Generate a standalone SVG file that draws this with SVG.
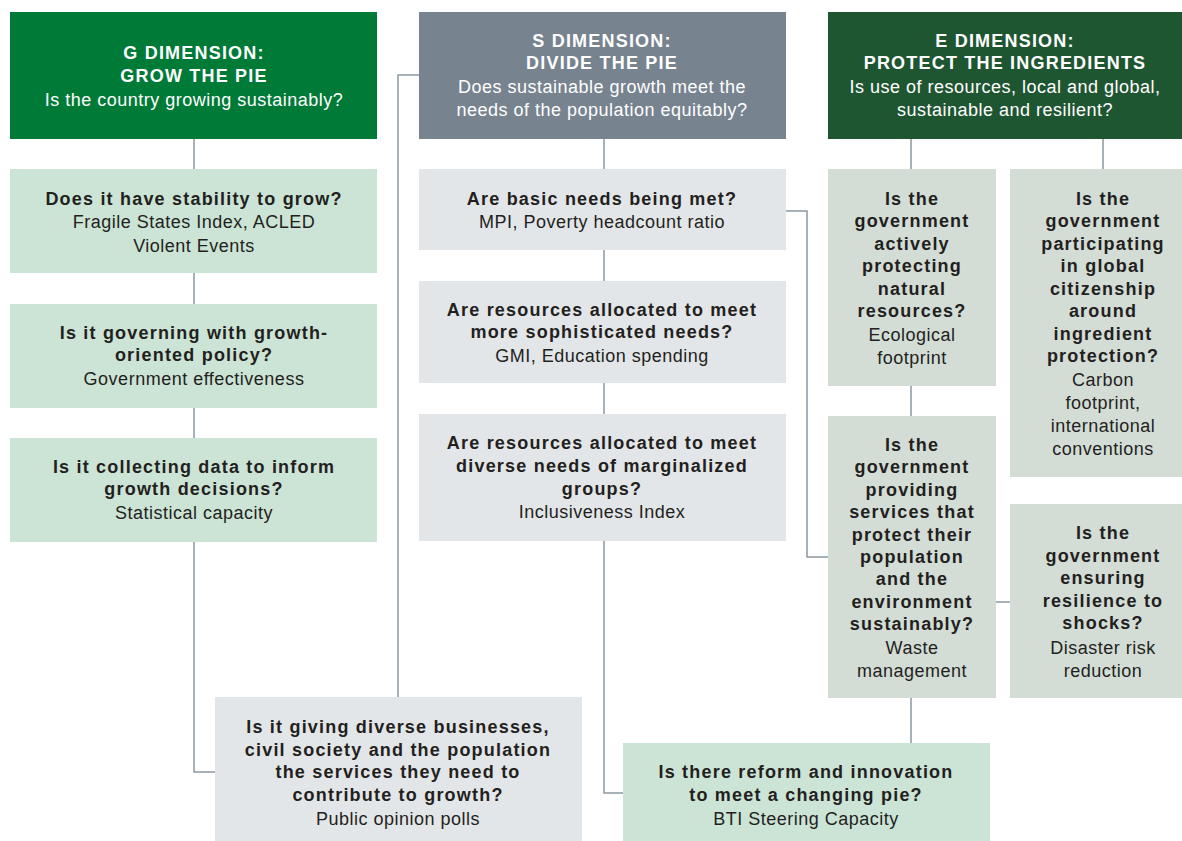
<svg xmlns="http://www.w3.org/2000/svg" width="1182" height="841" viewBox="0 0 1182 841">
<style>
.hg{fill:#007a37}.hs{fill:#77838f}.he{fill:#1f5632}
.lg{fill:#cce4d6}.gy{fill:#e3e6e8}.eg{fill:#d3ddd6}
text{font-family:"Liberation Sans",Arial,sans-serif;font-size:18px;letter-spacing:0.5px;text-anchor:middle;fill:#231f20}
.b{font-weight:bold;letter-spacing:1.2px}
.w{fill:#ffffff}
.con{fill:none;stroke:#8c97a1;stroke-width:1.5}
</style>
<rect width="1182" height="841" fill="#ffffff"/>
<g id="connectors" class="con">
<path d="M194 139V169M194 273V304M194 408V438M194 542V772H215"/>
<path d="M604 139V169M604 250V281M604 383V414M604 541V793H623"/>
<path d="M419 75H398V697"/>
<path d="M786 211H807V557H828"/>
<path d="M911 139V169M1103 139V169M911 386V416M996 602H1010M911 698V743"/>
</g>
<g id="g-header"><rect class="hg" x="10" y="12" width="367" height="127"/>
<text class="b w" x="194" y="59">G DIMENSION:</text>
<text class="b w" x="194" y="82">GROW THE PIE</text>
<text class="w" x="194" y="106">Is the country growing sustainably?</text></g>
<g id="s-header"><rect class="hs" x="419" y="12" width="367" height="127"/>
<text class="b w" x="602" y="47">S DIMENSION:</text>
<text class="b w" x="602" y="69">DIVIDE THE PIE</text>
<text class="w" x="602" y="93">Does sustainable growth meet the</text>
<text class="w" x="602" y="116">needs of the population equitably?</text></g>
<g id="e-header"><rect class="he" x="828" y="12" width="354" height="127"/>
<text class="b w" x="1005" y="47">E DIMENSION:</text>
<text class="b w" x="1005" y="69">PROTECT THE INGREDIENTS</text>
<text class="w" x="1005" y="93">Is use of resources, local and global,</text>
<text class="w" x="1005" y="116">sustainable and resilient?</text></g>

<g id="g1"><rect class="lg" x="10" y="169" width="367" height="104"/>
<text class="b" x="194" y="205">Does it have stability to grow?</text>
<text x="194" y="228">Fragile States Index, ACLED</text>
<text x="194" y="252">Violent Events</text></g>
<g id="g2"><rect class="lg" x="10" y="304" width="367" height="104"/>
<text class="b" x="194" y="339">Is it governing with growth-</text>
<text class="b" x="194" y="361">oriented policy?</text>
<text x="194" y="385">Government effectiveness</text></g>
<g id="g3"><rect class="lg" x="10" y="438" width="367" height="104"/>
<text class="b" x="194" y="473">Is it collecting data to inform</text>
<text class="b" x="194" y="495">growth decisions?</text>
<text x="194" y="519">Statistical capacity</text></g>

<g id="s1"><rect class="gy" x="419" y="169" width="367" height="81"/>
<text class="b" x="602" y="205">Are basic needs being met?</text>
<text x="602" y="228">MPI, Poverty headcount ratio</text></g>
<g id="s2"><rect class="gy" x="419" y="281" width="367" height="102"/>
<text class="b" x="602" y="316">Are resources allocated to meet</text>
<text class="b" x="602" y="338">more sophisticated needs?</text>
<text x="602" y="362">GMI, Education spending</text></g>
<g id="s3"><rect class="gy" x="419" y="414" width="367" height="127"/>
<text class="b" x="602" y="449">Are resources allocated to meet</text>
<text class="b" x="602" y="472">diverse needs of marginalized</text>
<text class="b" x="602" y="495">groups?</text>
<text x="602" y="518">Inclusiveness Index</text></g>

<g id="e1"><rect class="eg" x="828" y="169" width="168" height="217"/>
<text class="b" x="912" y="205">Is the</text>
<text class="b" x="912" y="227">government</text>
<text class="b" x="912" y="250">actively</text>
<text class="b" x="912" y="272">protecting</text>
<text class="b" x="912" y="295">natural</text>
<text class="b" x="912" y="317">resources?</text>
<text x="912" y="341">Ecological</text>
<text x="912" y="364">footprint</text></g>
<g id="e2"><rect class="eg" x="1010" y="169" width="172" height="308"/>
<text class="b" x="1103" y="205">Is the</text>
<text class="b" x="1103" y="227">government</text>
<text class="b" x="1103" y="250">participating</text>
<text class="b" x="1103" y="272">in global</text>
<text class="b" x="1103" y="295">citizenship</text>
<text class="b" x="1103" y="317">around</text>
<text class="b" x="1103" y="340">ingredient</text>
<text class="b" x="1103" y="362">protection?</text>
<text x="1103" y="386">Carbon</text>
<text x="1103" y="409">footprint,</text>
<text x="1103" y="432">international</text>
<text x="1103" y="455">conventions</text></g>
<g id="e3"><rect class="eg" x="828" y="416" width="168" height="282"/>
<text class="b" x="912" y="451">Is the</text>
<text class="b" x="912" y="473">government</text>
<text class="b" x="912" y="496">providing</text>
<text class="b" x="912" y="518">services that</text>
<text class="b" x="912" y="541">protect their</text>
<text class="b" x="912" y="563">population</text>
<text class="b" x="912" y="585">and the</text>
<text class="b" x="912" y="608">environment</text>
<text class="b" x="912" y="630">sustainably?</text>
<text x="912" y="654">Waste</text>
<text x="912" y="677">management</text></g>
<g id="e4"><rect class="eg" x="1010" y="504" width="172" height="194"/>
<text class="b" x="1103" y="539">Is the</text>
<text class="b" x="1103" y="562">government</text>
<text class="b" x="1103" y="584">ensuring</text>
<text class="b" x="1103" y="607">resilience to</text>
<text class="b" x="1103" y="629">shocks?</text>
<text x="1103" y="654">Disaster risk</text>
<text x="1103" y="677">reduction</text></g>

<g id="b1"><rect class="gy" x="215" y="697" width="367" height="144"/>
<text class="b" x="398" y="733">Is it giving diverse businesses,</text>
<text class="b" x="398" y="756">civil society and the population</text>
<text class="b" x="398" y="778">the services they need to</text>
<text class="b" x="398" y="801">contribute to growth?</text>
<text x="398" y="825">Public opinion polls</text></g>
<g id="b2"><rect class="lg" x="623" y="743" width="367" height="98"/>
<text class="b" x="806" y="778">Is there reform and innovation</text>
<text class="b" x="806" y="801">to meet a changing pie?</text>
<text x="806" y="825">BTI Steering Capacity</text></g>
</svg>
